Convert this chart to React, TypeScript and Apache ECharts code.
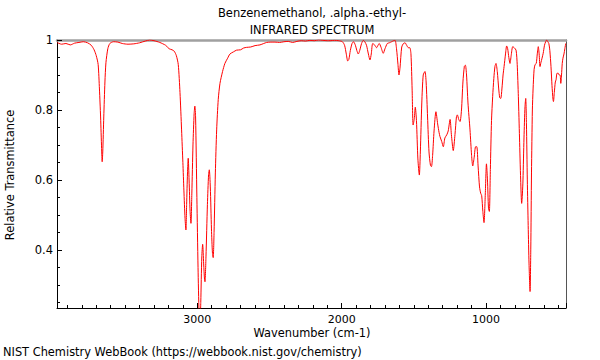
import React, { useEffect, useRef } from "react";
import * as echarts from "echarts";

const titleLines = ["Benzenemethanol, .alpha.-ethyl-", "INFRARED SPECTRUM"];
const xAxisTitle = "Wavenumber (cm-1)";
const yAxisTitle = "Relative Transmittance";
const footer = "NIST Chemistry WebBook (https://webbook.nist.gov/chemistry)";

const xRange = [446, 3972];
const yRange = [0.234, 1];

const wavenumbers = [
  3972, 3940, 3910, 3880, 3850, 3820, 3790, 3760, 3735, 3715, 3700, 3687, 3678, 3670, 3663, 3659, 3655, 3648, 3640, 3633,
  3620, 3606, 3580, 3550, 3520, 3480, 3440, 3400, 3360, 3330, 3300, 3260, 3220, 3195, 3175, 3160, 3145, 3132, 3120, 3109,
  3100, 3093, 3085, 3079, 3074, 3068, 3063, 3057, 3050, 3044, 3038, 3030, 3022, 3017, 3012, 3003, 2995, 2988, 2982, 2976,
  2969, 2963, 2956, 2950, 2947, 2940, 2930, 2922, 2917, 2910, 2902, 2895, 2890, 2884, 2875, 2866, 2855, 2843, 2825, 2809,
  2790, 2774, 2750, 2728, 2700, 2680, 2658, 2630, 2600, 2566, 2540, 2520, 2490, 2462, 2430, 2400, 2370, 2340, 2310, 2280,
  2250, 2220, 2190, 2160, 2130, 2100, 2080, 2050, 2020, 1995, 1980, 1968, 1958, 1950, 1940, 1928, 1918, 1905, 1895, 1885,
  1875, 1862, 1850, 1840, 1828, 1815, 1804, 1795, 1785, 1770, 1758, 1748, 1740, 1728, 1712, 1700, 1684, 1670, 1654, 1640,
  1630, 1620, 1610, 1603, 1596, 1584, 1572, 1561, 1550, 1538, 1528, 1520, 1512, 1505, 1497, 1490, 1482, 1472, 1462, 1455,
  1445, 1435, 1423, 1415, 1405, 1395, 1385, 1378, 1370, 1360, 1347, 1335, 1325, 1319, 1307, 1296, 1285, 1272, 1262, 1249,
  1240, 1227, 1215, 1205, 1199, 1188, 1180, 1170, 1160, 1150, 1143, 1135, 1125, 1111, 1100, 1092, 1082, 1072, 1064, 1055,
  1045, 1037, 1030, 1022, 1014, 1005, 997, 990, 983, 977, 970, 962, 954, 946, 938, 931, 922, 912, 905, 898,
  890, 882, 875, 865, 857, 850, 842, 834, 826, 815, 805, 792, 784, 776, 768, 760, 753, 748, 744, 737,
  730, 725, 720, 714, 708, 702, 695, 690, 685, 679, 674, 667, 660, 652, 645, 638, 632, 626, 620, 612,
  604, 595, 587, 580, 572, 565, 558, 550, 543, 536, 533, 527, 520, 515, 508, 500, 493, 487, 482, 477,
  472, 467, 460, 454, 448,
];

const transmittance = [
  0.993, 0.988, 0.99, 0.986, 0.991, 0.993, 0.995, 0.992, 0.985, 0.972, 0.955, 0.93, 0.86, 0.78, 0.69, 0.652, 0.68, 0.78, 0.88, 0.935,
  0.975, 0.99, 0.995, 0.994, 0.99, 0.988, 0.989, 0.992, 0.997, 1.0, 0.998, 0.993, 0.985, 0.975, 0.972, 0.968, 0.955, 0.93, 0.85, 0.743,
  0.65, 0.571, 0.49, 0.457, 0.53, 0.62, 0.662, 0.6, 0.51, 0.476, 0.56, 0.7, 0.79, 0.811, 0.78, 0.55, 0.35, 0.22, 0.18, 0.25,
  0.38, 0.416, 0.36, 0.315, 0.309, 0.38, 0.53, 0.615, 0.629, 0.58, 0.46, 0.39, 0.378, 0.45, 0.62, 0.743, 0.83, 0.876, 0.91, 0.933,
  0.948, 0.96, 0.966, 0.971, 0.972, 0.977, 0.979, 0.98, 0.984, 0.986, 0.99, 0.993, 0.994, 0.994, 0.993, 0.995, 0.996, 0.993, 0.996, 0.998,
  0.997, 0.999, 0.998, 1.0, 0.999, 0.998, 0.998, 0.999, 0.998, 0.995, 0.985, 0.96, 0.94, 0.945, 0.97, 0.99, 0.995, 0.985, 0.97, 0.96,
  0.97, 0.99, 0.999, 0.995, 0.985, 0.96, 0.943, 0.96, 0.99, 0.985, 0.978, 0.985, 0.99, 0.98, 0.962, 0.975, 0.99, 0.992, 0.995, 0.998,
  0.999, 0.975, 0.93, 0.9, 0.92, 0.98, 0.99, 0.992, 0.985, 0.978, 0.978, 0.96, 0.86, 0.757, 0.775, 0.808, 0.77, 0.66, 0.614, 0.68,
  0.82, 0.9, 0.91, 0.88, 0.78, 0.68, 0.642, 0.638, 0.67, 0.74, 0.795, 0.76, 0.735, 0.724, 0.71, 0.695, 0.72, 0.729, 0.74, 0.773,
  0.73, 0.684, 0.73, 0.78, 0.786, 0.772, 0.767, 0.8, 0.88, 0.925, 0.928, 0.9, 0.82, 0.743, 0.67, 0.64, 0.665, 0.695, 0.695, 0.64,
  0.58, 0.562, 0.555, 0.51, 0.478, 0.56, 0.646, 0.6, 0.52, 0.51, 0.63, 0.77, 0.838, 0.89, 0.925, 0.933, 0.91, 0.86, 0.835, 0.833,
  0.86, 0.9, 0.924, 0.96, 0.983, 0.975, 0.95, 0.933, 0.955, 0.981, 0.978, 0.971, 0.93, 0.838, 0.72, 0.6, 0.533, 0.56, 0.6, 0.72,
  0.81, 0.833, 0.76, 0.6, 0.47, 0.36, 0.281, 0.4, 0.62, 0.8, 0.86, 0.916, 0.93, 0.933, 0.96, 0.981, 0.96, 0.924, 0.935, 0.948,
  0.962, 0.985, 0.995, 1.0, 0.995, 0.99, 0.97, 0.924, 0.87, 0.83, 0.824, 0.85, 0.88, 0.886, 0.905, 0.905, 0.9, 0.9, 0.876, 0.9,
  0.933, 0.948, 0.96, 0.975, 0.99,
];

const FONT = "DejaVu Sans";

export default function App() {
  const ref = useRef<HTMLDivElement>(null);
  useEffect(() => {
    if (!ref.current) return;
    const chart = echarts.init(ref.current, undefined, { renderer: "svg" });
    const data = wavenumbers.map((w, i) => [w, transmittance[i]]);
    const tickStyle = { color: "#000", width: 1 };
    chart.setOption({
      animation: false,
      backgroundColor: "#fff",
      textStyle: { fontFamily: FONT },
      grid: { left: 57, right: 34, top: 40, bottom: 52, containLabel: false },
      xAxis: [
        {
          type: "value",
          inverse: true,
          min: xRange[0],
          max: xRange[1],
          position: "bottom",
          axisLine: { show: true, lineStyle: { color: "#000", width: 1 } },
          axisTick: { show: true, inside: true, length: 5, lineStyle: tickStyle },
          minorTick: { show: true, splitNumber: 10, length: 3, lineStyle: tickStyle },
          axisLabel: {
            show: true,
            color: "#000",
            fontSize: 11,
            fontFamily: FONT,
            margin: 6,
            showMinLabel: false,
            showMaxLabel: false,
            formatter: (v: number) => String(v),
          },
          splitLine: { show: false },
          minorSplitLine: { show: false },
        },
        {
          type: "value",
          inverse: true,
          min: xRange[0],
          max: xRange[1],
          position: "top",
          axisLine: { show: true, lineStyle: { color: "#a0a0a0", width: 2.5 } },
          axisTick: { show: false },
          axisLabel: { show: false },
          splitLine: { show: false },
        },
      ],
      yAxis: [
        {
          type: "value",
          min: yRange[0],
          max: yRange[1],
          position: "left",
          axisLine: { show: true, lineStyle: { color: "#000", width: 1 } },
          axisTick: { show: true, inside: true, length: 5, lineStyle: tickStyle },
          minorTick: { show: true, splitNumber: 4, length: 3, lineStyle: tickStyle },
          axisLabel: {
            show: true,
            color: "#000",
            fontSize: 11.5,
            fontFamily: FONT,
            margin: 4,
            showMinLabel: false,
            formatter: (v: number) => String(Math.round(v * 100) / 100),
          },
          splitLine: { show: false },
          minorSplitLine: { show: false },
        },
        {
          type: "value",
          min: yRange[0],
          max: yRange[1],
          position: "right",
          axisLine: { show: true, lineStyle: { color: "#555", width: 1 } },
          axisTick: { show: false },
          axisLabel: { show: false },
          splitLine: { show: false },
        },
      ],
      series: [
        {
          type: "line",
          xAxisIndex: 0,
          yAxisIndex: 0,
          data,
          showSymbol: false,
          smooth: 0.25,
          clip: true,
          lineStyle: { color: "#ff0000", width: 1 },
        },
      ],
      graphic: [
        {
          type: "text",
          x: 312,
          y: 13,
          style: { text: titleLines[0], fontSize: 11.5, fontFamily: FONT, fill: "#000", textAlign: "center", textVerticalAlign: "middle" },
        },
        {
          type: "text",
          x: 312,
          y: 30,
          style: { text: titleLines[1], fontSize: 11.5, fontFamily: FONT, fill: "#000", textAlign: "center", textVerticalAlign: "middle" },
        },
        {
          type: "text",
          x: 312,
          y: 333,
          style: { text: xAxisTitle, fontSize: 11.4, fontFamily: FONT, fill: "#000", textAlign: "center", textVerticalAlign: "middle" },
        },
        {
          type: "text",
          x: 10,
          y: 175,
          rotation: Math.PI / 2,
          style: { text: yAxisTitle, fontSize: 11.4, fontFamily: FONT, fill: "#000", textAlign: "center", textVerticalAlign: "middle" },
        },
        {
          type: "text",
          x: 3,
          y: 352,
          style: { text: footer, fontSize: 11.4, fontFamily: FONT, fill: "#000", textAlign: "left", textVerticalAlign: "middle" },
        },
      ],
    });
    return () => chart.dispose();
  }, []);
  return <div ref={ref} style={{ width: 600, height: 360, position: "absolute", left: 0, top: 0 }} />;
}
